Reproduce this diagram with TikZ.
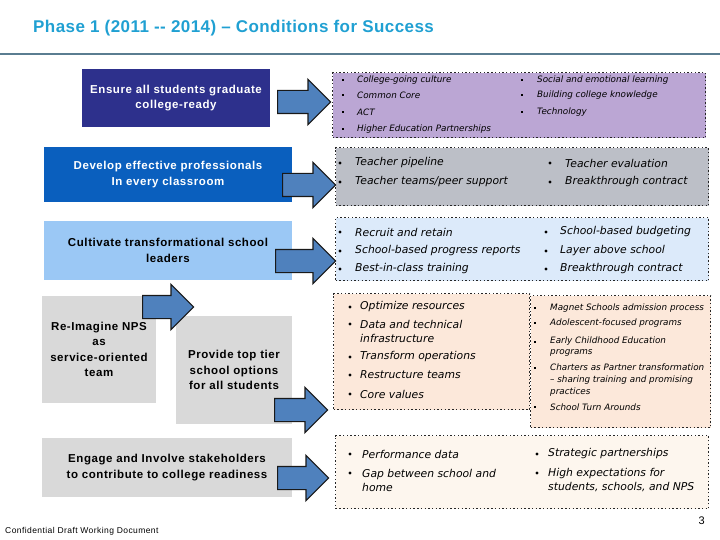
\documentclass[tikz,border=0pt]{standalone}
\usepackage{fontspec}
\setmainfont{Liberation Sans}
\newfontfamily\labelfont[LetterSpace=5]{Liberation Sans}
\newfontfamily\headfont[LetterSpace=2.5]{Liberation Sans}
\newfontfamily\itemfont{DejaVu Sans}
\usetikzlibrary{shapes.arrows}

\definecolor{titleblue}{RGB}{32,160,210}
\definecolor{ruleblue}{RGB}{90,125,145}
\definecolor{navy}{RGB}{45,48,140}
\definecolor{royal}{RGB}{10,95,190}
\definecolor{sky}{RGB}{155,200,245}
\definecolor{lgray}{RGB}{217,217,217}
\definecolor{arrowblue}{RGB}{79,129,189}
\definecolor{lilac}{RGB}{187,166,212}
\definecolor{slate}{RGB}{188,191,199}
\definecolor{ice}{RGB}{220,234,250}
\definecolor{peach}{RGB}{252,232,218}
\definecolor{cream}{RGB}{253,246,238}

\tikzset{
  goal/.style={font=\labelfont\bfseries\fontsize{11.5}{15.5}\selectfont, align=center, inner sep=0pt},
  panel/.style={draw=black!85, line width=1.4pt, dash pattern=on 1.4pt off 2.3pt, anchor=north west, inner sep=0pt},
  bigarrow/.style={single arrow, draw=black!90, line width=1.2pt, fill=arrowblue, inner xsep=0pt, inner ysep=11pt,
    single arrow head extend=11pt, single arrow head indent=0pt, anchor=tail},
  itm/.style={font=\itemfont\itshape\fontsize{10.8}{14}\selectfont, anchor=west, inner sep=0pt, align=left},
  smallitm/.style={itm, font=\itemfont\itshape\fontsize{8.8}{12}\selectfont},
}

\begin{document}
\begin{tikzpicture}[x=1pt, y=-1pt]
  \useasboundingbox (0,0) rectangle (720,540);

  % Titel
  \node[anchor=base west, inner sep=0pt, text=titleblue, font=\headfont\bfseries\fontsize{17}{19}\selectfont] (title) at (33,33)
    {Phase 1 (2011 -{}- 2014) – Conditions for Success};
  \draw[ruleblue, line width=1.5pt] (0,54) -- (720,54);

  % Ziele links
  \node[goal, fill=navy, text=white, minimum width=188pt, minimum height=58pt] (ensure) at (176,98)
    {Ensure all students graduate\\college-ready};
  \node[goal, fill=royal, text=white, minimum width=248pt, minimum height=55pt] (develop) at (168,174.5)
    {Develop effective professionals\\In every classroom};
  \node[goal, fill=sky, minimum width=248pt, minimum height=59pt] (cultivate) at (168,250.5)
    {Cultivate transformational school\\leaders};
  \node[goal, fill=lgray, minimum width=114pt, minimum height=107pt] (reimagine) at (99,349.5)
    {Re-Imagine NPS\\as\\service-oriented\\team};
  \node[goal, fill=lgray, minimum width=116pt, minimum height=108pt] (provide) at (234,370)
    {Provide top tier\\school options\\for all students};
  \node[goal, fill=lgray, minimum width=250pt, minimum height=59pt] (engage) at (167,467.5)
    {Engage and Involve stakeholders\\to contribute to college readiness};

  % Felder rechts
  \node[panel, fill=lilac, minimum width=373pt, minimum height=65pt] (college) at (332,72) {};
  \node[panel, fill=slate, minimum width=373pt, minimum height=58pt] (teachers) at (335,147) {};
  \node[panel, fill=ice, minimum width=373pt, minimum height=63pt] (leaders) at (335,217) {};
  \node[panel, fill=peach, minimum width=196pt, minimum height=116pt] (service) at (333,293) {};
  \node[panel, fill=peach, minimum width=180pt, minimum height=132pt] (options) at (530,295) {};
  \node[panel, fill=cream, minimum width=373pt, minimum height=73pt] (community) at (335,435) {};

  % Pfeile
  \node[bigarrow, minimum height=53pt] (arr1) at (277,102) {};
  \node[bigarrow, minimum height=53pt] (arr2) at (282,185) {};
  \node[bigarrow, minimum height=60pt] (arr3) at (275,261) {};
  \node[bigarrow, minimum height=51pt] (arr4) at (142,307) {};
  \node[bigarrow, minimum height=53pt] (arr5) at (274,410) {};
  \node[bigarrow, minimum height=51pt] (arr6) at (277,478) {};

  % Punkte
  \foreach \y/\t [count=\i] in {80/College-going culture, 95/Common Core, 112/ACT, 129/Higher Education Partnerships} {
    \fill (341.8,\y-1.2) rectangle +(2.4,2.4);
    \node[smallitm] (ca\i) at (357,\y) {\t};
  }
  \foreach \y/\t [count=\i] in {80/Social and emotional learning, 95/Building college knowledge, 112/Technology} {
    \fill (520.8,\y-1.2) rectangle +(2.4,2.4);
    \node[smallitm] (cb\i) at (537,\y) {\t};
  }
  \foreach \y/\t [count=\i] in {163/Teacher pipeline, 182/{Teacher teams/peer support}} {
    \fill (340,\y) circle (1.6);
    \node[itm] (ta\i) at (355,\y) {\t};
  }
  \foreach \y/\t [count=\i] in {163/Teacher evaluation, 182/Breakthrough contract} {
    \fill (550,\y) circle (1.6);
    \node[itm] (tb\i) at (565,\y) {\t};
  }
  \foreach \y/\t [count=\i] in {232/Recruit and retain, 251/School-based progress reports, 269/Best-in-class training} {
    \fill (340,\y) circle (1.6);
    \node[itm] (la\i) at (355,\y) {\t};
  }
  \foreach \y/\t [count=\i] in {232/School-based budgeting, 251/Layer above school, 269/Breakthrough contract} {
    \fill (546,\y) circle (1.6);
    \node[itm] (lb\i) at (560,\y) {\t};
  }
  \foreach \y/\t [count=\i] in {307/Optimize resources, 331/Data and technical\\infrastructure, 357/Transform operations,
      375/Restructure teams, 394/Core values} {
    \node[itm] (sa\i) at (360,\y) {\t};
  }
  \foreach \y in {307,324,357,375,394}
    \fill (350,\y) circle (1.6);
  \foreach \y/\t/\s [count=\i] in {308/Magnet Schools admission process/12, 323/Adolescent-focused programs/12,
      347/Early Childhood Education\\programs/11, 380/Charters as Partner transformation\\– sharing training and promising\\practices/12,
      407/School Turn Arounds/12} {
    \node[smallitm, font=\itemfont\itshape\fontsize{8.8}{\s}\selectfont] (ob\i) at (550,\y) {\t};
  }
  \foreach \y in {308,323,342,368,407}
    \fill (533.8,\y-1.2) rectangle +(2.4,2.4);
  \foreach \y/\t [count=\i] in {454/Performance data, 480/Gap between school and\\home} {
    \node[itm] (ma\i) at (362,\y) {\t};
  }
  \foreach \y/\t [count=\i] in {454/Strategic partnerships, 480/{High expectations for\\students, schools, and NPS}} {
    \node[itm] (mb\i) at (548,\y) {\t};
  }
  \foreach \x in {350,537} {
    \fill (\x,454) circle (1.6);
    \fill (\x,473) circle (1.6);
  }

  % Fusszeile
  \node[anchor=base east, inner sep=0pt, font=\fontsize{11}{13}\selectfont] (page) at (705,524) {3};
  \node[anchor=base west, inner sep=0pt, font=\labelfont\fontsize{8.5}{10}\selectfont] (note) at (5,533)
    {Confidential Draft Working Document};
\end{tikzpicture}
\end{document}
